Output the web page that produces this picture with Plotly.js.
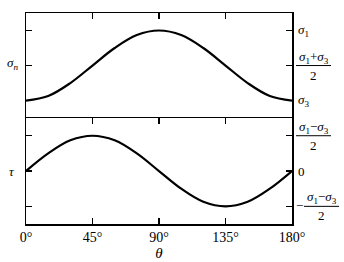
<!DOCTYPE html>
<html><head><meta charset="utf-8">
<script src="https://cdn.plot.ly/plotly-3.0.1.min.js"></script>
<style>html,body{margin:0;padding:0;background:#fff;}#c{width:344px;height:262px;}</style>
</head><body><div id="c"></div>
<script>
const theta = [0,15,30,45,60,75,90,105,120,135,150,165,180];
const sigmaN = [-1,-0.87,-0.5,0,0.5,0.87,1,0.87,0.5,0,-0.5,-0.87,-1];
const tau = [0,0.5,0.87,1,0.87,0.5,0,-0.5,-0.87,-1,-0.87,-0.5,0];
const xTickVals = [0,45,90,135,180];
const xTickText = ['0°','45°','90°','135°','180°'];
const topTickVals = [1,0,-1];
const topNum = ['<i>σ</i><sub>1</sub>','<i>σ</i><sub>1</sub>+<i>σ</i><sub>3</sub>','<i>σ</i><sub>3</sub>'];
const topDen = ['','2',''];
const botTickVals = [1,0,-1];
const botNum = ['<i>σ</i><sub>1</sub>−<i>σ</i><sub>3</sub>','0','<i>σ</i><sub>1</sub>−<i>σ</i><sub>3</sub>'];
const botDen = ['2','','2'];
const botPrefix = ['','', '−'];
const FONT = 'Liberation Serif';
const PW = 266; // plot width px (for paper-unit offsets of label decorations)

const line = {color:'#000', width:2.2, shape:'spline', smoothing:1};
const data = [
  {x: theta, y: sigmaN, xaxis:'x2', yaxis:'y2', mode:'lines', line: line, hoverinfo:'skip'},
  {x: theta, y: tau, xaxis:'x', yaxis:'y', mode:'lines', line: line, hoverinfo:'skip'}
];
const annotations = [];
const shapes = [];
function addLabel(yref, v, num, den, prefix){
  const f = {family:FONT,size:13,color:'#000'};
  const x0 = prefix ? 12 : 4;
  if (!den){
    annotations.push({xref:'paper', yref:yref, x:1, y:v, xanchor:'left', yanchor:'middle', xshift:x0, text:num, showarrow:false, font:f});
    return;
  }
  const w = 35;
  annotations.push({xref:'paper', yref:yref, x:1, y:v, xanchor:'center', yanchor:'bottom', xshift:x0 + w/2, yshift:-2, text:num, showarrow:false, font:f});
  annotations.push({xref:'paper', yref:yref, x:1, y:v, xanchor:'center', yanchor:'top', xshift:x0 + w/2, yshift:0, text:den, showarrow:false, font:f});
  shapes.push({type:'line', xref:'paper', yref:yref, x0:1 + x0/PW, x1:1 + (x0+w)/PW, y0:v, y1:v, line:{color:'#000', width:1}});
  if (prefix) annotations.push({xref:'paper', yref:yref, x:1, y:v, xanchor:'left', yanchor:'middle', xshift:2, yshift:1, text:prefix, showarrow:false, font:f});
}
topTickVals.forEach((v,i)=>addLabel('y2', v, topNum[i], topDen[i], ''));
botTickVals.forEach((v,i)=>addLabel('y', v, botNum[i], botDen[i], botPrefix[i]));
annotations.push({xref:'paper', yref:'y2', x:0, y:0, xanchor:'right', yanchor:'middle', xshift:-6, yshift:2, text:'<i>σ<sub>n</sub></i>', showarrow:false, font:{family:FONT,size:13,color:'#000'}});
annotations.push({xref:'paper', yref:'y', x:0, y:0, xanchor:'right', yanchor:'middle', xshift:-9, text:'<i>τ</i>', showarrow:false, font:{family:FONT,size:13,color:'#000'}});

const yCommon = {range:[-1.5,1.5], showgrid:false, zeroline:false, showline:true, linecolor:'#000', linewidth:1.5, mirror:'allticks', ticks:'inside', ticklen:6, tickcolor:'#000', tickwidth:1.5, showticklabels:false, fixedrange:true};
const layout = {
  width:344, height:262,
  margin:{l:26, r:52, t:13, b:38},
  paper_bgcolor:'#fff', plot_bgcolor:'#fff',
  showlegend:false,
  font:{family:FONT, size:13, color:'#000'},
  xaxis:{domain:[0,1], anchor:'y', range:[0,180], tickvals:xTickVals, ticktext:xTickText, ticks:'inside', ticklen:6, tickcolor:'#000', tickwidth:1.5, showline:true, linecolor:'#000', linewidth:1.5, mirror:'allticks', showgrid:false, zeroline:false, tickfont:{family:FONT,size:14}, title:{text:'<i>θ</i>', font:{family:FONT,size:15}, standoff:2}, fixedrange:true},
  xaxis2:{domain:[0,1], anchor:'y2', range:[0,180], tickvals:[45,90,135], ticks:'inside', ticklen:6, tickcolor:'#000', tickwidth:1.5, side:'top', showline:true, linecolor:'#000', linewidth:1.5, mirror:false, showgrid:false, zeroline:false, showticklabels:false, fixedrange:true},
  yaxis: Object.assign({domain:[0,0.502], anchor:'x', tickvals:botTickVals}, yCommon),
  yaxis2: Object.assign({domain:[0.502,1], anchor:'x2', tickvals:topTickVals}, yCommon),
  annotations: annotations,
  shapes: shapes
};
Plotly.newPlot('c', data, layout, {displayModeBar:false, staticPlot:true});
</script></body></html>
